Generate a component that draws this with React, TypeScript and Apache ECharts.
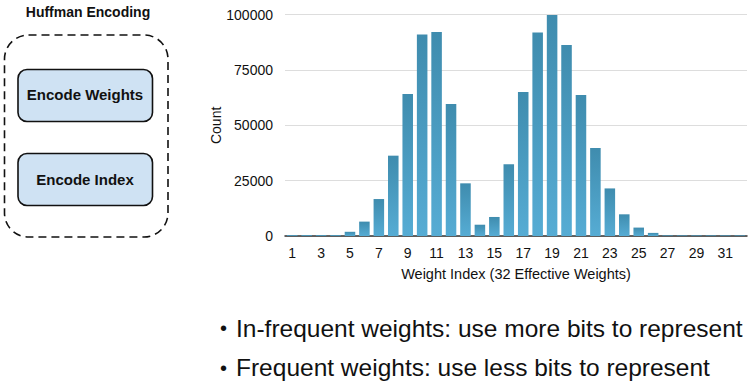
import React, { useEffect, useRef } from "react";
import * as echarts from "echarts";

const categories = Array.from({ length: 32 }, (_, i) => String(i + 1));
const counts = [
  400, 400, 400, 400, 1900, 6500, 16700, 36300, 64200, 91000, 92200, 59700,
  23800, 5100, 8600, 32400, 65100, 92000, 99900, 86300, 63700, 39800, 21500,
  9800, 3800, 1400, 300, 300, 300, 300, 300, 300,
];
const yTicks = [0, 25000, 50000, 75000, 100000];
const title = "Huffman Encoding";
const boxLabels = ["Encode Weights", "Encode Index"];
const bullets = [
  "In-frequent weights: use more bits to represent",
  "Frequent weights: use less bits to represent",
];

export default function App() {
  const ref = useRef<HTMLDivElement>(null);
  useEffect(() => {
    if (!ref.current) return;
    const chart = echarts.init(ref.current, null, { renderer: "svg" });
    const ff = "Liberation Sans";
    chart.setOption({
      animation: false,
      backgroundColor: "#ffffff",
      textStyle: { fontFamily: ff },
      grid: { left: 285, right: 1, top: 14.7, bottom: 145, containLabel: false },
      xAxis: {
        type: "category",
        data: categories,
        name: "Weight Index (32 Effective Weights)",
        nameLocation: "middle",
        nameGap: 30,
        nameMoveOverlap: false,
        nameTextStyle: { fontFamily: ff, fontSize: 14.5, color: "#111" },
        axisLine: { lineStyle: { color: "#333", width: 1.5 } },
        axisTick: { show: false },
        axisLabel: {
          interval: 1,
          fontFamily: ff,
          fontSize: 14,
          color: "#111",
          margin: 10,
        },
      },
      yAxis: {
        type: "value",
        min: yTicks[0],
        max: yTicks[yTicks.length - 1],
        interval: 25000,
        name: "Count",
        nameLocation: "middle",
        nameRotate: 90,
        nameGap: 62,
        nameMoveOverlap: false,
        nameTextStyle: { fontFamily: ff, fontSize: 14, color: "#111" },
        axisLine: { show: false },
        axisTick: { show: false },
        axisLabel: {
          fontFamily: ff,
          fontSize: 14,
          color: "#111",
          margin: 12,
          formatter: (v: number) => String(v),
        },
        splitLine: { lineStyle: { color: "#dddddd", width: 1 } },
      },
      series: [
        {
          type: "bar",
          data: counts,
          barCategoryGap: "27%",
          itemStyle: {
            color: new echarts.graphic.LinearGradient(0, 0, 0, 1, [
              { offset: 0, color: "#3f8cae" },
              { offset: 1, color: "#56acd4" },
            ]),
          },
        },
      ],
      graphic: [
        {
          type: "text",
          x: 88,
          y: 12.4,
          style: {
            text: title,
            fontFamily: ff,
            fontWeight: "bold",
            fontSize: 14,
            fill: "#111",
            align: "center",
            verticalAlign: "middle",
          },
        },
        {
          type: "rect",
          shape: { x: 4.5, y: 35, width: 163.5, height: 202, r: 24 },
          style: { fill: "none", stroke: "#111", lineWidth: 1.6, lineDash: [8, 5] },
        },
        ...boxLabels.flatMap((label, i) => [
          {
            type: "rect",
            shape: { x: 18, y: 69.5 + i * 84, width: 134.5, height: 52, r: 9 },
            style: { fill: "#cfe2f3", stroke: "#111", lineWidth: 1.6 },
          },
          {
            type: "text",
            x: 85,
            y: 94.8 + i * 85,
            style: {
              text: label,
              fontFamily: ff,
              fontWeight: "bold",
              fontSize: 15,
              fill: "#111",
              align: "center",
              verticalAlign: "middle",
            },
          },
        ]),
        ...bullets.flatMap((b, i) => [
          {
            type: "text",
            x: 220,
            y: 328 + i * 39.5,
            style: {
              text: "•",
              fontFamily: ff,
              fontSize: 20,
              fill: "#111",
              align: "left",
              verticalAlign: "middle",
            },
          },
          {
            type: "text",
            x: 236,
            y: 328 + i * 39.5,
            style: {
              text: b,
              fontFamily: ff,
              fontSize: 24.5,
              fill: "#111",
              align: "left",
              verticalAlign: "middle",
            },
          },
        ]),
      ],
    });
    return () => chart.dispose();
  }, []);
  return (
    <div
      ref={ref}
      style={{ position: "fixed", left: 0, top: 0, width: 748, height: 381 }}
    />
  );
}
